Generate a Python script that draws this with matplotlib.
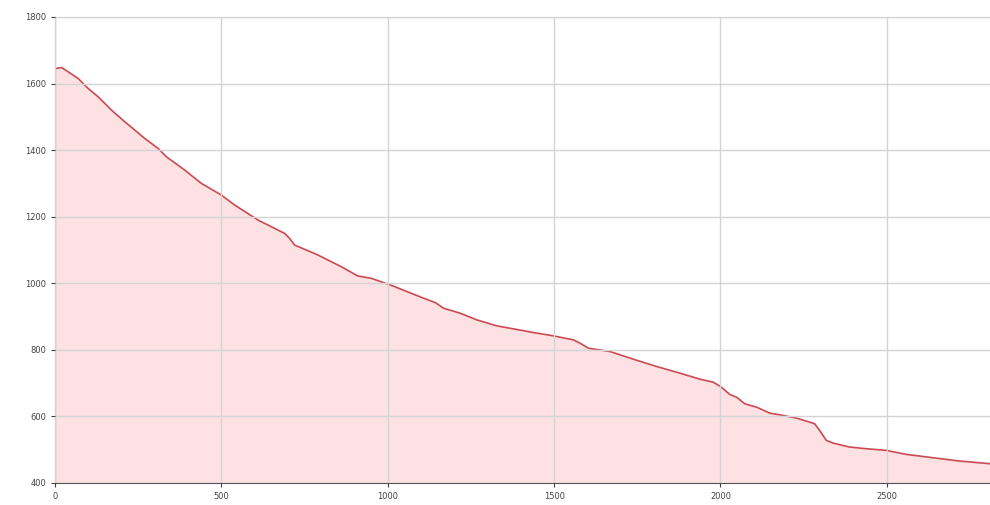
import matplotlib
matplotlib.use("Agg")
import matplotlib.pyplot as plt

# values
xs = [0, 20, 40, 70, 100, 130, 170, 210, 270, 310, 335, 390, 440, 500, 540,
      610, 690, 705, 720, 790, 860, 910, 950, 1008, 1058, 1108, 1143, 1168,
      1218, 1268, 1328, 1378, 1438, 1498, 1558, 1578, 1603, 1668, 1738, 1808,
      1878, 1938, 1978, 2000, 2028, 2048, 2073, 2108, 2148, 2188, 2228, 2258,
      2283, 2298, 2318, 2338, 2388, 2438, 2498, 2558, 2638, 2718, 2810]
ys = [1645, 1648, 1635, 1615, 1585, 1560, 1520, 1485, 1435, 1405, 1380, 1340,
      1300, 1265, 1235, 1190, 1150, 1135, 1115, 1085, 1050, 1022, 1015, 995,
      975, 955, 942, 925, 910, 890, 872, 863, 852, 842, 830, 820, 805, 795,
      772, 750, 730, 712, 703, 690, 666, 658, 638, 628, 610, 603, 595, 586,
      578, 558, 528, 520, 508, 503, 498, 486, 476, 466, 458]

xticks = [0, 500, 1000, 1500, 2000, 2500]
yticks = [400, 600, 800, 1000, 1200, 1400, 1600, 1800]

fig = plt.figure(figsize=(9.9, 5.05), dpi=100)
ax = fig.add_axes([55 / 990, 1 - 483 / 505, 1 - 55 / 990, (483 - 17) / 505])

ax.fill_between(xs, ys, 400, color="#fde1e3", linewidth=0)
ax.plot(xs, ys, color="#cc4a52", linewidth=1.2)

ax.set_xlim(0, 2810)
ax.set_ylim(400, 1800)
ax.set_xticks(xticks)
ax.set_yticks(yticks)
ax.grid(True, color="#d4d4d4", linewidth=1)
ax.set_axisbelow(False)

ax.tick_params(labelsize=6, colors="#444444", length=3, width=0.8)
ax.spines["left"].set_color("#555555")
ax.spines["bottom"].set_color("#555555")
ax.spines["top"].set_color("#aaaaaa")
ax.spines["right"].set_visible(False)

fig.savefig("out.png", dpi=100)
